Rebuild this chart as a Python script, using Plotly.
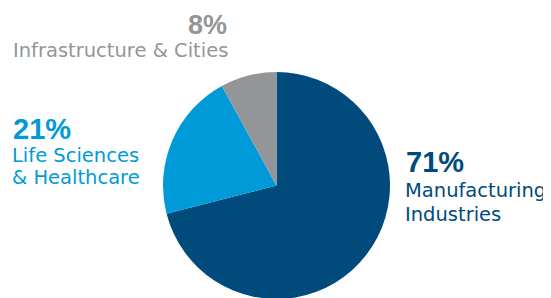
import plotly.graph_objects as go

categories = ["Manufacturing Industries", "Life Sciences & Healthcare", "Infrastructure & Cities"]
values = [71, 21, 8]
pct_labels = ["71%", "21%", "8%"]
name_lines = [["Manufacturing", "Industries"], ["Life Sciences", "& Healthcare"], ["Infrastructure & Cities"]]
colors = ["#004b7b", "#009ad8", "#939598"]

W, H = 551, 298
NAME_FONT = "DejaVu Sans"
PCT_FONT = "Liberation Sans"

fig = go.Figure(go.Pie(
    labels=categories, values=values, sort=False, direction="clockwise", rotation=0,
    marker=dict(colors=colors, line=dict(width=0)), textinfo="none", hoverinfo="label+percent",
    domain=dict(x=[155 / W, 382 / W], y=[7 / H, 234 / H]), showlegend=False,
))

def ann(x, y, text, color, size, xanchor, bold=False):
    fig.add_annotation(x=x / W, y=1 - y / H, xref="paper", yref="paper",
                       text=f"<b>{text}</b>" if bold else text, showarrow=False,
                       xanchor=xanchor, yanchor="middle", borderpad=0,
                       font=dict(family=PCT_FONT if bold else NAME_FONT, size=size, color=color))

PS, NS = 29, 19.5
# Manufacturing (right)
ann(397, 154, pct_labels[0], colors[0], PS, "left", True)
ann(396, 182, name_lines[0][0], colors[0], NS, "left")
ann(396, 206, name_lines[0][1], colors[0], NS, "left")
# Life sciences (left)
ann(4, 121, pct_labels[1], colors[1], PS, "left", True)
ann(3, 148, name_lines[1][0], colors[1], NS, "left")
ann(3, 169, name_lines[1][1], colors[1], NS, "left")
# Infrastructure (top)
ann(220, 17, pct_labels[2], colors[2], 27, "right", True)
ann(221, 43, name_lines[2][0], colors[2], NS, "right")

fig.update_layout(width=W, height=H, margin=dict(l=0, r=0, t=0, b=0),
                  paper_bgcolor="white", plot_bgcolor="white")
fig.write_html("out.html")
